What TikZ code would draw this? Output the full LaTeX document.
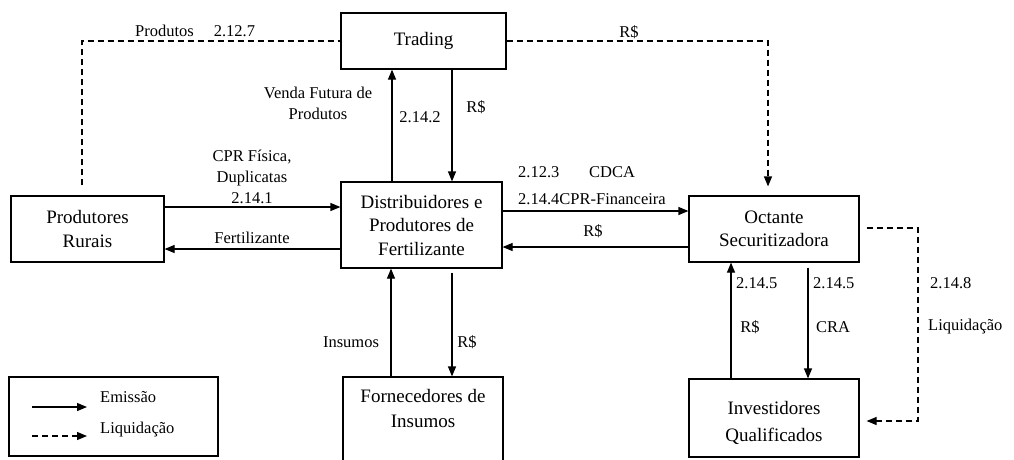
\documentclass[tikz,border=0pt]{standalone}
\usepackage{fontspec}
\setmainfont{Liberation Serif}
\newfontfamily\tnr{Liberation Serif}
\usetikzlibrary{arrows.meta}
\begin{document}
\begin{tikzpicture}[x=1pt,y=-1pt,
 box/.style={draw, line width=1.2pt, align=center, font=\tnr\fontsize{19}{23.5}\selectfont, inner sep=0pt},
 boxtext/.style={align=center, font=\tnr\fontsize{19}{25}\selectfont, inner sep=0pt},
 lbl/.style={font=\tnr\fontsize{16.5}{21}\selectfont, inner sep=0pt, align=center},
 arr/.style={line width=1.2pt, -{Triangle[length=10pt,width=8pt]}},
 dsh/.style={line width=1.2pt, dash pattern=on 6pt off 4pt},
 darr/.style={dsh, -{Triangle[length=10pt,width=8pt]}},
]
\fill[white] (0,0) rectangle (1014,459);
\useasboundingbox (0,0) rectangle (1014,459);

% boxes
\node[box, minimum width=165pt, minimum height=56pt] (trading) at (423.5,41) {Trading};
\node[box, minimum width=161pt, minimum height=86pt] (dist) at (421.5,225) {Distribuidores e\\Produtores de\\Fertilizante};
\node[box, minimum width=153pt, minimum height=66pt] (prod) at (87.5,229) {Produtores\\Rurais};
\node[box, minimum width=170pt, minimum height=66pt] (oct) at (774,229) {Octante\\Securitizadora};
\node[box, minimum width=170pt, minimum height=78pt] (inv) at (774,418) {};
\node[boxtext, font=\tnr\fontsize{19}{27}\selectfont] (invtext) at (774,423) {Investidores\\Qualificados};
\node[box, minimum width=160pt, minimum height=100pt] (forn) at (423,427) {};
\node[boxtext] (forntext) at (423,408) {Fornecedores de\\Insumos};

% Trading <-> Distribuidores
\draw[arr] ([xshift=-29.5pt]dist.north) -- ([xshift=-29.5pt]dist.north |- trading.south);
\draw[arr] ([xshift=28.5pt]trading.south) -- ([xshift=28.5pt]trading.south |- dist.north);
\node[lbl] (venda) at (318,103) {Venda Futura de\\Produtos};
\node[lbl] (l2142) at (420,117) {2.14.2};
\node[lbl] (lrs1) at (476,107) {R\$};

% Produtores <-> Distribuidores
\draw[arr] ([yshift=22pt]prod.east) -- ([yshift=22pt]prod.east -| dist.west);
\draw[arr] ([yshift=-24pt]dist.west) -- ([yshift=-24pt]dist.west -| prod.east);
\node[lbl] (cpr) at (252,177) {CPR Física,\\Duplicatas\\2.14.1};
\node[lbl] (fert) at (252,238) {Fertilizante};

% Distribuidores <-> Octante
\draw[arr] ([yshift=14pt]dist.east) -- ([yshift=14pt]dist.east -| oct.west);
\draw[arr] ([yshift=-22pt]dist.east -| oct.west) -- ([yshift=-22pt]dist.east);
\node[lbl, anchor=west] (l2123) at (518,172) {2.12.3};
\node[lbl, anchor=west] (cdca) at (589,172) {CDCA};
\node[lbl, anchor=west] (l2144) at (518,199) {2.14.4CPR-Financeira};
\node[lbl] (lrs2) at (593,231) {R\$};

% Distribuidores <-> Fornecedores
\draw[arr] ([xshift=-30.5pt]dist.south |- forn.north) -- ([xshift=-30.5pt]dist.south);
\draw[arr] ([xshift=30.5pt,yshift=-4pt]dist.south) -- ([xshift=30.5pt]dist.south |- forn.north);
\node[lbl] (insumos) at (351,342) {Insumos};
\node[lbl] (lrs3) at (467,342) {R\$};

% Octante <-> Investidores
\draw[arr] ([xshift=-43pt]inv.north) -- ([xshift=-43pt]inv.north |- oct.south);
\draw[arr] ([xshift=34pt,yshift=-5pt]oct.south) -- ([xshift=34pt]oct.south |- inv.north);
\node[lbl, anchor=west] (l2145a) at (736,283) {2.14.5};
\node[lbl, anchor=west] (l2145b) at (813,283) {2.14.5};
\node[lbl] (lrs4) at (750,327) {R\$};
\node[lbl] (cra) at (833,327) {CRA};

% dashed flows
\draw[dsh] ([xshift=-5.5pt,yshift=10pt]prod.north) |- (trading.west);
\node[lbl, anchor=west] (produtos) at (135,31) {Produtos\hspace{20pt}2.12.7};
\draw[darr, shorten >=9pt] (trading.east) -| ([xshift=-6pt]oct.north);
\node[lbl] (lrs5) at (629,32) {R\$};
\coordinate (c1) at (918,228);
\draw[darr] ([xshift=7pt,yshift=1pt]oct.east) -- (c1) |- ([xshift=7pt,yshift=-3pt]inv.east);
\node[lbl, anchor=west] (l2148) at (930,283) {2.14.8};
\node[lbl, anchor=west] (liq) at (928,327) {Liquidação};

% legend
\node[box, minimum width=209pt, minimum height=79pt] (legend) at (113.5,416.5) {};
\coordinate (la) at (32,407);
\coordinate (lb) at (87,407);
\coordinate (lc) at (32,436);
\coordinate (ld) at (87,436);
\draw[arr] (la) -- (lb);
\draw[darr] (lc) -- (ld);
\node[lbl, anchor=west] (emissao) at (100,397) {Emissão};
\node[lbl, anchor=west] (liqleg) at (100,430) {Liquidação};
\end{tikzpicture}
\end{document}
